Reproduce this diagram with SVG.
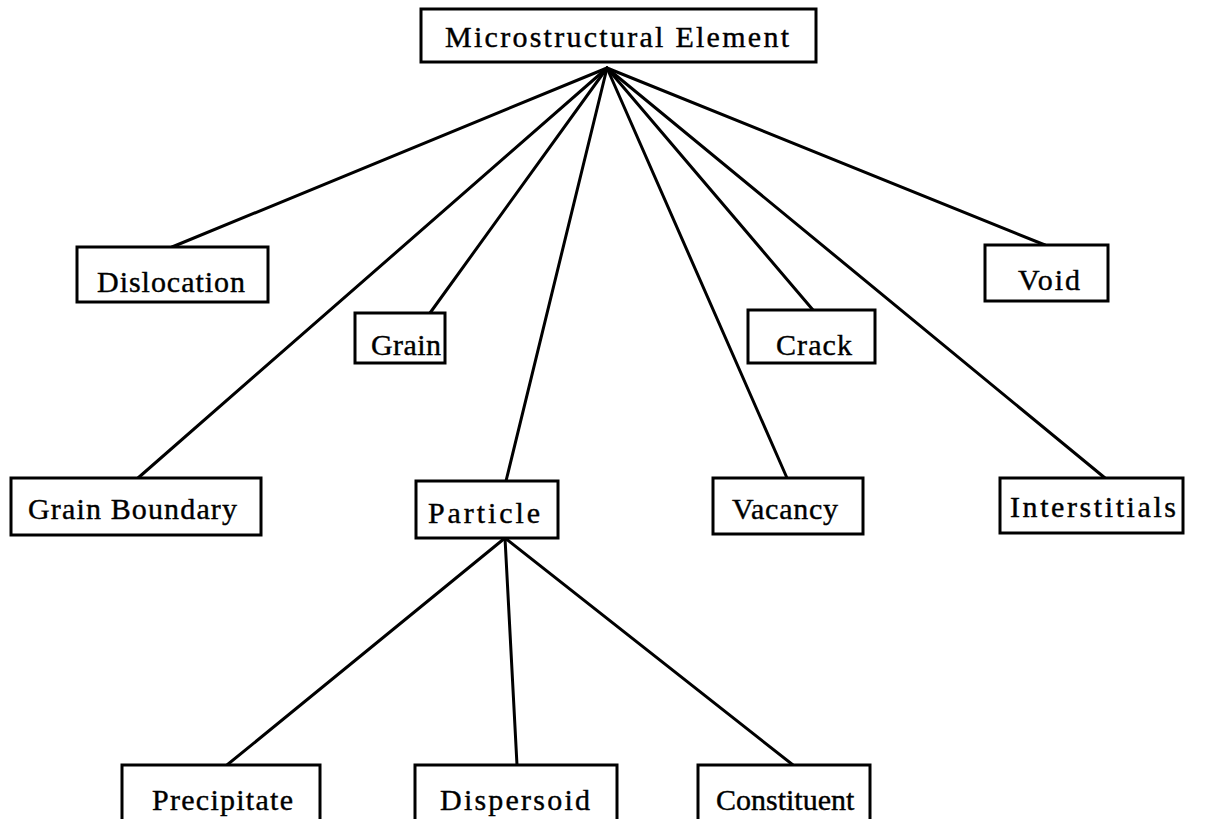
<svg xmlns="http://www.w3.org/2000/svg" width="1209" height="819" viewBox="0 0 1209 819">
<style>
.box{fill:#fff;stroke:#000;stroke-width:3}
.lbl{font-family:"Liberation Serif","Times New Roman",serif;font-size:30px;fill:#000;stroke:#000;stroke-width:0.4}
.conn line{stroke:#000;stroke-width:3;stroke-linecap:round}
</style>
<rect width="1209" height="819" fill="#fff"/>
<g class="conn">
<line x1="607" y1="68" x2="172" y2="247"/>
<line x1="607" y1="68" x2="138" y2="478"/>
<line x1="607" y1="68" x2="430" y2="313"/>
<line x1="607" y1="68" x2="506" y2="481"/>
<line x1="607" y1="68" x2="787" y2="478"/>
<line x1="607" y1="68" x2="813" y2="310"/>
<line x1="607" y1="68" x2="1105" y2="478"/>
<line x1="607" y1="68" x2="1045" y2="245"/>
<line x1="505" y1="538" x2="227" y2="765"/>
<line x1="505" y1="538" x2="517" y2="765"/>
<line x1="505" y1="538" x2="793" y2="765"/>
</g>
<g id="microstructural-element"><rect class="box" x="421" y="9" width="395" height="53"/><text class="lbl" x="445" y="47" textLength="344" lengthAdjust="spacing">Microstructural Element</text></g>
<g id="dislocation"><rect class="box" x="77" y="247" width="191" height="55"/><text class="lbl" x="97" y="292" textLength="148" lengthAdjust="spacing">Dislocation</text></g>
<g id="grain"><rect class="box" x="355" y="313" width="90" height="50"/><text class="lbl" x="371" y="355" textLength="70" lengthAdjust="spacing">Grain</text></g>
<g id="crack"><rect class="box" x="748" y="310" width="127" height="53"/><text class="lbl" x="776" y="355" textLength="76" lengthAdjust="spacing">Crack</text></g>
<g id="void"><rect class="box" x="985" y="245" width="123" height="56"/><text class="lbl" x="1018" y="290" textLength="62" lengthAdjust="spacing">Void</text></g>
<g id="grain-boundary"><rect class="box" x="11" y="478" width="250" height="57"/><text class="lbl" x="28" y="519" textLength="209" lengthAdjust="spacing">Grain Boundary</text></g>
<g id="particle"><rect class="box" x="416" y="481" width="142" height="57"/><text class="lbl" x="428" y="523" textLength="112" lengthAdjust="spacing">Particle</text></g>
<g id="vacancy"><rect class="box" x="713" y="478" width="150" height="56"/><text class="lbl" x="732" y="519" textLength="106" lengthAdjust="spacing">Vacancy</text></g>
<g id="interstitials"><rect class="box" x="1000" y="478" width="183" height="55"/><text class="lbl" x="1010" y="517" textLength="166" lengthAdjust="spacing">Interstitials</text></g>
<g id="precipitate"><rect class="box" x="122" y="765" width="198" height="60"/><text class="lbl" x="152" y="810" textLength="141" lengthAdjust="spacing">Precipitate</text></g>
<g id="dispersoid"><rect class="box" x="415" y="765" width="202" height="60"/><text class="lbl" x="440" y="810" textLength="150" lengthAdjust="spacing">Dispersoid</text></g>
<g id="constituent"><rect class="box" x="698" y="765" width="172" height="60"/><text class="lbl" x="716" y="810">Constituent</text></g>
</svg>
